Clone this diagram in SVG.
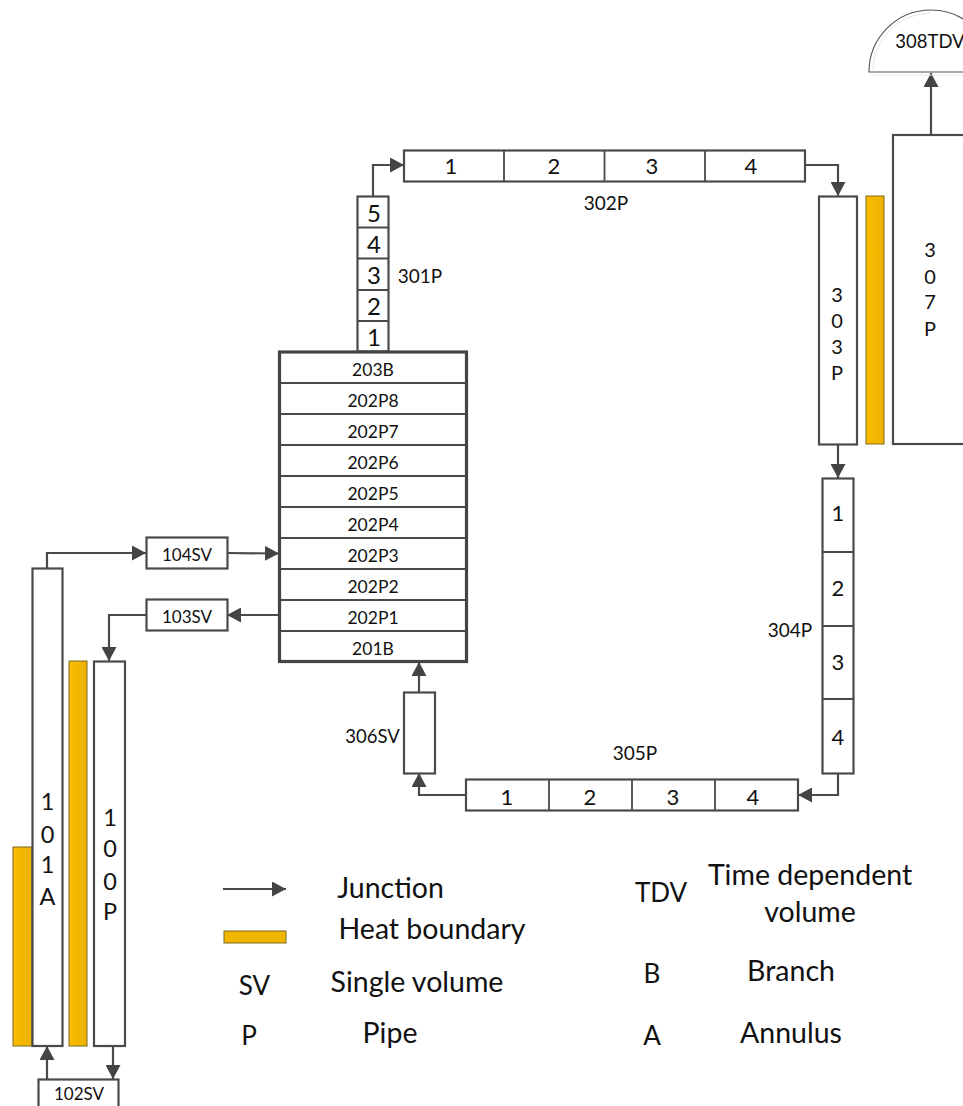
<svg xmlns="http://www.w3.org/2000/svg" width="963" height="1106" viewBox="0 0 963 1106">
<style>
text{font-family:"Lato","Open Sans","Liberation Sans",sans-serif;fill:#111;text-anchor:middle}
.box{fill:#fff;stroke:#4a4a4a;stroke-width:2.2}
.thick{fill:none;stroke:#444;stroke-width:3.2}
.div{stroke:#4a4a4a;stroke-width:1.8;fill:none}
.heat{fill:url(#g);stroke:#7d6a20;stroke-width:1}
.c{fill:none;stroke:#4a4a4a;stroke-width:2.2;marker-end:url(#a)}
.r{font-size:17.500px}.t{font-size:19px}.sv{font-size:17px}.v{font-size:20px}.m{font-size:22px}.l{font-size:24px}.k{font-size:26px}.d{font-size:28.500px}.x{font-size:23.500px}
</style>
<defs><marker id="a" markerUnits="userSpaceOnUse" markerWidth="15" markerHeight="15" refX="14" refY="7.5" orient="auto"><path d="M0 0L14 7.5L0 15Z" fill="#444"/></marker>
<linearGradient id="g"><stop offset="0" stop-color="#fabd00"/><stop offset="1" stop-color="#edb000"/></linearGradient></defs>
<g id="connectors">
<path class="c" d="M47 568V553H146"/>
<path class="c" d="M227 553L279 553.500"/>
<path class="c" d="M279 615H227"/>
<path class="c" d="M146 615H109V661"/>
<path class="c" d="M47 1079V1046"/>
<path class="c" d="M113 1046V1079"/>
<path class="c" d="M373 196V165H404"/>
<path class="c" d="M805 165H838V196"/>
<path class="c" d="M838 444V478"/>
<path class="c" d="M838 773V795H798"/>
<path class="c" d="M466 795H419V773"/>
<path class="c" d="M419 692V662"/>
<path class="c" d="M931 135V73"/>
<path class="c" d="M223 889H286" style="stroke-width:1.8"/>
</g>
<g id="n308TDV"><path d="M869 72A62 62 0 0 1 993 72Z" fill="#fff" stroke="#555" stroke-width="1.1"/><path d="M873 75H990M873 70A58 58 0 0 1 930 13" fill="none" stroke="#e6e6e6"/><text x="930" y="48" style="font-size:18.500px">308TDV</text></g>
<g id="n307P"><rect class="box" x="893" y="135" width="80" height="309"/><text class="v" x="930" y="257">3</text><text class="v" x="930" y="284">0</text><text class="v" x="930" y="309">7</text><text class="v" x="930" y="336">P</text></g>
<g id="h303"><rect class="heat" x="866" y="196" width="18" height="248"/></g>
<g id="n303P"><rect class="box" x="819" y="196.500" width="38" height="248"/><text class="v" x="837" y="302">3</text><text class="v" x="837" y="328">0</text><text class="v" x="837" y="354">3</text><text class="v" x="837" y="380">P</text></g>
<g id="n302P"><rect class="box" x="404" y="150.500" width="401" height="31"/><path class="div" d="M504 150.500V181.500M604.500 150.500V181.500M705 150.500V181.500"/><text class="m" x="451" y="174">1</text><text class="m" x="554" y="174">2</text><text class="m" x="652" y="174">3</text><text class="m" x="751" y="174">4</text><text class="t" x="606" y="210">302P</text></g>
<g id="n301P"><rect class="box" x="357.500" y="196.500" width="31" height="155"/><path class="div" d="M357.500 227.500H388.500M357.500 258.500H388.500M357.500 290H388.500M357.500 321H388.500"/><text class="l" x="374" y="222">5</text><text class="l" x="374" y="253">4</text><text class="l" x="374" y="284">3</text><text class="l" x="374" y="315">2</text><text class="l" x="374" y="346">1</text><text class="t" x="420" y="283">301P</text></g>
<g id="n200"><rect x="279.500" y="352" width="187" height="309.500" fill="#fff"/><path class="div" d="M279.500 383H466.500M279.500 414H466.500M279.500 445H466.500M279.500 476H466.500M279.500 507H466.500M279.500 538H466.500M279.500 569H466.500M279.500 600H466.500M279.500 631H466.500"/><rect class="thick" x="279.500" y="352" width="187" height="309.500"/>
<text class="r" x="373" y="376">203B</text><text class="r" x="373" y="407">202P8</text><text class="r" x="373" y="438">202P7</text><text class="r" x="373" y="469">202P6</text><text class="r" x="373" y="500">202P5</text><text class="r" x="373" y="531">202P4</text><text class="r" x="373" y="562">202P3</text><text class="r" x="373" y="593">202P2</text><text class="r" x="373" y="624">202P1</text><text class="r" x="373" y="655">201B</text></g>
<g id="n304P"><rect class="box" x="822.500" y="478.500" width="31" height="295"/><path class="div" d="M822.500 552H853.500M822.500 626H853.500M822.500 699H853.500"/><text class="m" x="838" y="521">1</text><text class="m" x="838" y="596">2</text><text class="m" x="838" y="670">3</text><text class="m" x="838" y="745">4</text><text class="t" x="790" y="637">304P</text></g>
<g id="n305P"><rect class="box" x="466" y="779.500" width="332" height="31"/><path class="div" d="M549 779.500V810.500M632 779.500V810.500M715 779.500V810.500"/><text class="m" x="507" y="805">1</text><text class="m" x="590" y="805">2</text><text class="m" x="673" y="805">3</text><text class="m" x="753" y="805">4</text><text class="t" x="635" y="760">305P</text></g>
<g id="n306SV"><rect class="box" x="404" y="692.500" width="31" height="81"/><text x="372.500" y="743" style="font-size:18.500px">306SV</text></g>
<g id="n104SV"><rect class="box" x="146.500" y="537.500" width="81" height="31"/><text class="sv" x="187" y="561">104SV</text></g>
<g id="n103SV"><rect class="box" x="146.500" y="599.500" width="81" height="31"/><text class="sv" x="187" y="623">103SV</text></g>
<g id="heat"><rect class="heat" x="13" y="847" width="19" height="199"/><rect class="heat" x="69" y="661" width="18" height="385"/></g>
<g id="n101A"><rect class="box" x="32.500" y="568.500" width="30" height="477.500"/><text class="x" x="47.500" y="810">1</text><text class="x" x="47.500" y="843">0</text><text class="x" x="47.500" y="873">1</text><text class="x" x="47.500" y="905">A</text></g>
<g id="n100P"><rect class="box" x="94" y="661.500" width="31" height="384.500"/><text class="x" x="110" y="826">1</text><text class="x" x="110" y="857">0</text><text class="x" x="110" y="890">0</text><text class="x" x="110" y="920">P</text></g>
<g id="n102SV"><rect class="box" x="38.500" y="1079.500" width="80" height="40"/><text class="sv" x="79" y="1100">102SV</text></g>
<g id="legend">
<rect x="224" y="931" width="62" height="12" fill="#f2b500" stroke="#7d6a20"/>
<text class="d" x="390.500" y="898">Junction</text><text class="d" x="432" y="939">Heat boundary</text>
<text class="k" x="254.500" y="995">SV</text><text class="d" x="417" y="992">Single volume</text>
<text class="k" x="249" y="1045">P</text><text class="d" x="390" y="1043">Pipe</text>
<text class="k" x="661" y="902">TDV</text><text class="d" x="810" y="885">Time dependent</text><text class="d" x="810" y="922">volume</text>
<text class="k" x="652" y="983">B</text><text class="d" x="791" y="981">Branch</text>
<text class="k" x="652" y="1045">A</text><text class="d" x="791" y="1043">Annulus</text>
</g>
</svg>
